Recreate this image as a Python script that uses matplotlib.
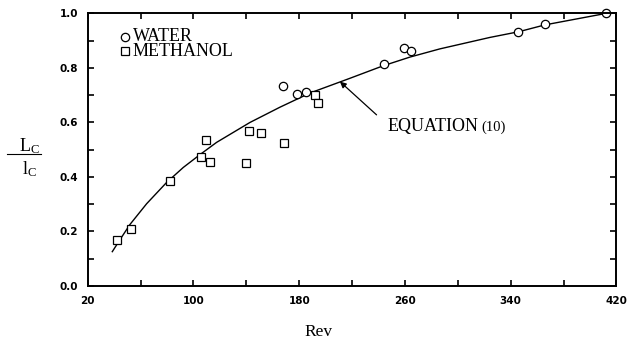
import numpy as np
import matplotlib
matplotlib.use('Agg')
import matplotlib.pyplot as plt
from matplotlib.lines import Line2D

# values
water_rev = [167.9, 178.5, 185.1, 244.3, 259.2, 264.5, 345.6, 365.8, 411.9]
water_ratio = [0.734, 0.704, 0.713, 0.813, 0.872, 0.863, 0.933, 0.962, 1.0]

methanol_rev = [42.4, 52.7, 82.2, 105.9, 109.8, 112.2, 139.9, 142.2, 150.8, 168.4, 191.9, 194.4]
methanol_ratio = [0.169, 0.208, 0.386, 0.475, 0.534, 0.455, 0.452, 0.567, 0.562, 0.524, 0.701, 0.673]

# equation (10) curve, traced
eq_rev = [38.6, 44.4, 52.0, 64.6, 79.7, 92.3, 104.9, 117.5, 142.7, 165.4, 188.1,
          218.3, 243.5, 263.8, 286.4, 324.2, 346.1, 365.8, 411.9]
eq_ratio = [0.126, 0.170, 0.226, 0.302, 0.380, 0.435, 0.482, 0.527, 0.600, 0.656, 0.708,
            0.762, 0.808, 0.840, 0.870, 0.912, 0.933, 0.958, 1.0]

serif = ['Liberation Serif', 'DejaVu Serif']

fig = plt.figure(figsize=(6.31, 3.45), dpi=100)
ax = fig.add_axes([0.139, 0.171, 0.838, 0.790])

ax.plot(eq_rev, eq_ratio, color='black', lw=1.0)
ax.plot(water_rev, water_ratio, 'o', ms=6, mfc='white', mec='black', mew=0.9, clip_on=False)
ax.plot(methanol_rev, methanol_ratio, 's', ms=6, mfc='white', mec='black', mew=0.9, clip_on=False)

ax.set_xlim(20, 420)
ax.set_ylim(0, 1.0)
ax.set_xticks(np.arange(20, 421, 80))
ax.set_xticks(np.arange(60, 421, 80), minor=True)
ax.set_yticks(np.arange(0, 1.01, 0.2))
ax.set_yticks(np.arange(0.1, 1.0, 0.2), minor=True)
ax.set_yticklabels(['0.0', '0.2', '0.4', '0.6', '0.8', '1.0'])
ax.tick_params(which='both', direction='in', top=True, right=True, length=4, width=1.2,
               labelsize=7.5, pad=7)
for lab in ax.get_xticklabels() + ax.get_yticklabels():
    lab.set_fontweight('heavy')
for s in ax.spines.values():
    s.set_linewidth(1.4)

# legend
ax.plot([48.2], [0.914], 'o', ms=6, mfc='white', mec='black', mew=0.9)
ax.plot([48.2], [0.862], 's', ms=6, mfc='white', mec='black', mew=0.9)
ax.text(54, 0.888, 'WATER\nMETHANOL', family=serif, fontsize=13, va='center',
        linespacing=0.82)

ax.annotate('', xy=(210.8, 0.75), xytext=(238.5, 0.628),
            arrowprops=dict(arrowstyle='-|>', color='black', lw=0.9, shrinkA=0, shrinkB=0,
                            mutation_scale=9))
ax.text(247, 0.584, 'EQUATION', family=serif, fontsize=13, va='center', ha='left')
ax.text(318, 0.584, '(10)', family=serif, fontsize=10.5, va='center', ha='left')

# axis labels
fig.text(0.505, 0.039, 'Rev', family=serif, fontsize=12.5, ha='center', va='center')
fig.text(0.046, 0.577, r'$\mathregular{L_C}$', family=serif, fontsize=13, ha='center', va='center')
fig.text(0.046, 0.510, r'$\mathregular{l_C}$', family=serif, fontsize=13, ha='center', va='center')
fig.add_artist(Line2D([0.011, 0.065], [0.554, 0.554], color='black', lw=0.8, transform=fig.transFigure))

fig.savefig('out.png', dpi=100)
